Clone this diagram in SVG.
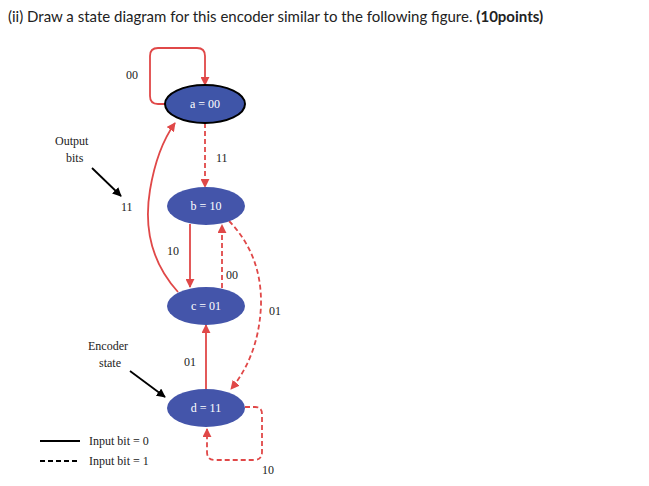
<svg xmlns="http://www.w3.org/2000/svg" width="649" height="486" viewBox="0 0 649 486">
<style>
.t{font-family:"Liberation Serif",serif;font-size:12px;fill:#222}
.n{font-family:"Liberation Serif",serif;font-size:12px;fill:#fff;text-anchor:middle}
.e{stroke:#e04848;stroke-width:1.8;fill:none}
.d{stroke-dasharray:5,3}
.k{stroke:#000;stroke-width:1.8;fill:none}
</style>
<defs>
<marker id="r" viewBox="0 0 10 10" refX="9" refY="5" markerWidth="5" markerHeight="5" orient="auto"><path d="M0,0L10,5L0,10z" fill="#e04848"/></marker>
<marker id="b" viewBox="0 0 10 10" refX="9" refY="5" markerWidth="5" markerHeight="5" orient="auto"><path d="M0,0L10,5L0,10z" fill="#000"/></marker>
</defs>
<rect width="649" height="486" fill="#fff"/>
<text x="8" y="22" font-family="Lato,sans-serif" font-size="15" fill="#222">(ii) Draw a state diagram for this encoder similar to the following figure. <tspan font-weight="bold">(10points)</tspan></text>
<g id="connectors">
<path class="e" d="M165,104 H158 Q150,104 150,96 V56 Q150,48 158,48 H197 Q205,48 205,56 V85" marker-end="url(#r)"/>
<path class="e d" d="M205,123 V187" marker-end="url(#r)"/>
<path class="e" d="M190,224 V287" marker-end="url(#r)"/>
<path class="e d" d="M222,288 V225" marker-end="url(#r)"/>
<path class="e d" d="M229,221 Q262,255 261,305 Q259,355 231,389" marker-end="url(#r)"/>
<path class="e" d="M178,292 Q140,250 150,190 Q157,148 175,123" marker-end="url(#r)"/>
<path class="e" d="M206,390 V325" marker-end="url(#r)"/>
<path class="e d" d="M245,407 H255 Q262,407 262,414 V452 Q262,460 254,460 H215 Q207,460 207,452 V429" marker-end="url(#r)"/>
<path class="k" d="M92,168 L121,196" marker-end="url(#b)"/>
<path class="k" d="M130,371 L165,397" marker-end="url(#b)"/>
</g>
<g id="a"><ellipse cx="205" cy="104" rx="40" ry="19" fill="#3f55a8" stroke="#000" stroke-width="2"/><text class="n" x="205" y="108">a = 00</text></g>
<g id="b_node"><ellipse cx="206" cy="206" rx="39" ry="19" fill="#4455aa"/><text class="n" x="206" y="210">b = 10</text></g>
<g id="c"><ellipse cx="206" cy="306" rx="39" ry="19" fill="#4455aa"/><text class="n" x="206" y="310">c = 01</text></g>
<g id="d_node"><ellipse cx="206" cy="408" rx="39" ry="19" fill="#4455aa"/><text class="n" x="206" y="412">d = 11</text></g>
<g id="labels">
<text class="t" x="126" y="79">00</text>
<text class="t" x="216" y="162">11</text>
<text class="t" x="167" y="255">10</text>
<text class="t" x="226" y="279">00</text>
<text class="t" x="269" y="315">01</text>
<text class="t" x="184" y="366">01</text>
<text class="t" x="262" y="474">10</text>
<text class="t" x="121" y="211">11</text>
<text class="t" x="55" y="145">Output</text>
<text class="t" x="66" y="162">bits</text>
<text class="t" x="88" y="350">Encoder</text>
<text class="t" x="99" y="367">state</text>
</g>
<g id="legend">
<line x1="40" y1="441" x2="80" y2="441" stroke="#000" stroke-width="1.8"/>
<line x1="40" y1="461" x2="80" y2="461" stroke="#000" stroke-width="1.8" stroke-dasharray="5,3"/>
<text class="t" x="89" y="445">Input bit = 0</text>
<text class="t" x="89" y="465">Input bit = 1</text>
</g>
</svg>
